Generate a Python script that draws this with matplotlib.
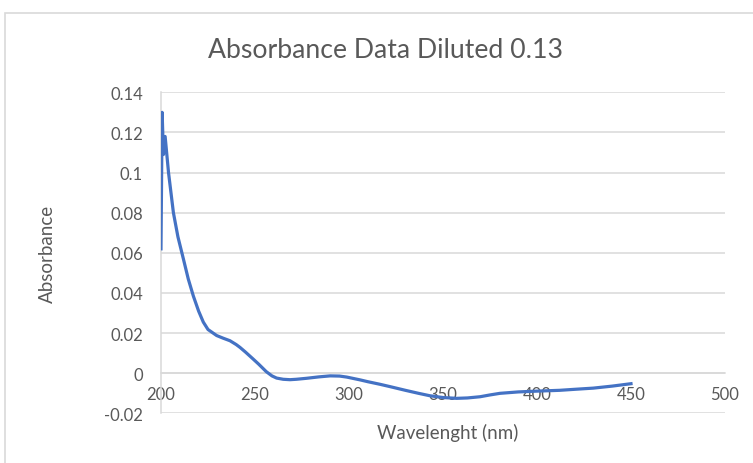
import matplotlib.pyplot as plt
from matplotlib.patches import Rectangle

# wavelength (nm) and absorbance
wavelength = [200, 200.6, 201.3, 202.2, 204, 206.6, 209, 211.9, 214.5, 217.2,
              220, 222.5, 225, 229.6, 233, 236.7, 240, 242, 245, 249,
              252, 256, 259, 261.5, 265, 268.6, 272, 277.5, 284, 290,
              295, 298.8, 305.9, 310, 316.5, 322, 330, 337, 343, 350,
              357.3, 363, 369.7, 375, 380.3, 390, 400, 412, 420, 430,
              440, 450]
absorbance = [0.062, 0.130, 0.109, 0.118, 0.100, 0.080, 0.068, 0.057, 0.047, 0.0385,
              0.031, 0.0255, 0.0218, 0.0188, 0.0175, 0.0162, 0.0143, 0.0129, 0.0105, 0.0071,
              0.0045, 0.0008, -0.0013, -0.0024, -0.003, -0.0032, -0.003, -0.0025, -0.0018, -0.0013,
              -0.0014, -0.0019, -0.0033, -0.0042, -0.0055, -0.0067, -0.0085, -0.0100, -0.0112, -0.0121,
              -0.0125, -0.0123, -0.0117, -0.0108, -0.0100, -0.0093, -0.0089, -0.0085, -0.008, -0.0074,
              -0.0064, -0.0052]

x_ticks = [200, 250, 300, 350, 400, 450, 500]
y_ticks = [-0.02, 0, 0.02, 0.04, 0.06, 0.08, 0.1, 0.12, 0.14]
y_labels = ["-0.02", "0", "0.02", "0.04", "0.06", "0.08", "0.1", "0.12", "0.14"]

plt.rcParams['font.family'] = ['Lato', 'DejaVu Sans']
text_col = '#595959'
grid_col = '#d9d9d9'

fig = plt.figure(figsize=(7.53, 4.64), dpi=100)

# outer chart frame (runs off the right and bottom edges)
W, H = 753, 464
fig.patches.append(Rectangle((5 / W, -0.1), 1.2, 1 - 14 / H + 0.1,
                             transform=fig.transFigure, fill=False,
                             edgecolor=grid_col, linewidth=1.2))

ax = fig.add_axes([161 / W, 1 - 414.4 / H, (725 - 161) / W, (414.4 - 93.3) / H])

ax.plot(wavelength, absorbance, color='#4472C4', linewidth=2.3,
        solid_joinstyle='round', zorder=3)

ax.set_xlim(200, 500)
ax.set_ylim(-0.02, 0.14)
ax.set_xticks(x_ticks)
ax.set_yticks(y_ticks)
ax.set_yticklabels(y_labels)

ax.grid(axis='y', color=grid_col, linewidth=1.1)
ax.set_axisbelow(True)

for s in ['top', 'right']:
    ax.spines[s].set_visible(False)
ax.spines['bottom'].set_position(('data', 0))
ax.spines['bottom'].set_color(grid_col)
ax.spines['bottom'].set_linewidth(1.1)
ax.spines['left'].set_color(grid_col)
ax.spines['left'].set_linewidth(1.1)

ax.tick_params(axis='both', length=0, labelsize=12, labelcolor=text_col)
ax.tick_params(axis='y', pad=13)
ax.tick_params(axis='x', pad=9)

fig.text(386 / W, 1 - 50 / H, 'Absorbance Data Diluted 0.13', ha='center', va='center',
         fontsize=19.2, color=text_col)
fig.text(448 / W, 1 - 433 / H, 'Wavelenght (nm)', ha='center', va='center',
         fontsize=13.5, color=text_col)
fig.text(47 / W, 1 - 254 / H, 'Absorbance', ha='center', va='center',
         rotation=90, fontsize=13.5, color=text_col)

fig.savefig('out.png', dpi=100)
